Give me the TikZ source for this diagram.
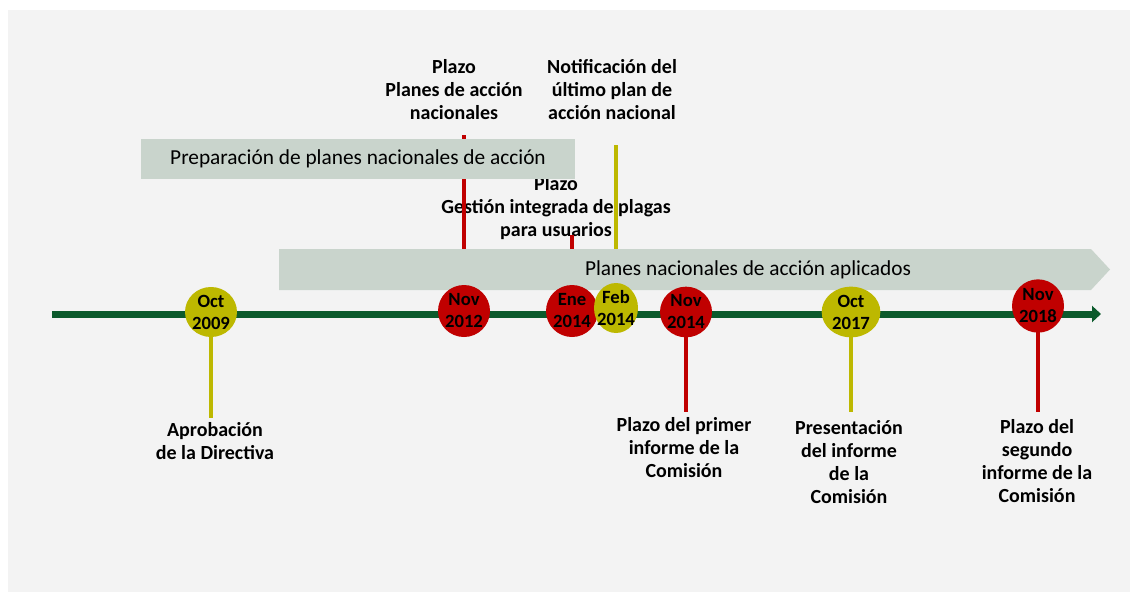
\documentclass[tikz,border=0pt]{standalone}
\usepackage{fontspec}
\setmainfont{Carlito}
\usetikzlibrary{shapes.geometric,arrows.meta}
\definecolor{bgGray}{HTML}{F3F3F3}
\definecolor{bandGreen}{HTML}{C9D4CC}
\definecolor{axisGreen}{HTML}{0B5A2C}
\definecolor{dateRed}{HTML}{C00000}
\definecolor{dateOlive}{HTML}{BDB800}
\tikzset{
    event/.style = {
        ellipse,
        fill=#1,
        inner sep=-8pt,
        align=center,
        font=\fontsize{14}{16.5}\selectfont\bfseries,
        minimum width=39pt,
        minimum height=39pt
    },
    stem/.style = {
        line width=3pt,
        #1
    },
    band/.style = {
        fill=bandGreen,
        font=\fontsize{16}{19}\selectfont
    },
    note/.style = {
        align=center,
        inner sep=0pt,
        font=\fontsize{15}{17.25}\selectfont\bfseries
    },
    axis/.style = {
        line width=5.25pt,
        axisGreen,
        -{Triangle[length=6.75pt,width=12pt]}
    }
}

\begin{document}
\begin{tikzpicture}[x=0.75pt,y=-0.75pt]
    \useasboundingbox (0,0) rectangle (1130,592);
    \fill[bgGray] (8,10) rectangle (1130,592);

    % Draw texts
    \node[note] (plazoPlanes) at (454,90) {Plazo\\Planes de acción\\nacionales};
    \node[note] (notif) at (612,90) {Notificación del\\último plan de\\acción nacional};
    \node[note] (gestion) at (556,208) {Plazo\\Gestión integrada de plagas\\para usuarios};
    \node[note] (aprob) at (215,441) {Aprobación\\de la Directiva};
    \node[note] (primer) at (684,448) {Plazo del primer\\informe de la\\Comisión};
    \node[note] (present) at (849,462) {Presentación\\del informe\\de la\\Comisión};
    \node[note] (segundo) at (1037,461) {Plazo del\\segundo\\informe de la\\Comisión};

    % Draw dates
    \coordinate (d09) at (211,312);
    \coordinate (d12) at (464,311);
    \coordinate (d14a) at (572,311);
    \coordinate (d14b) at (616,308);
    \coordinate (d14c) at (686,312);
    \coordinate (d17) at (851,312);
    \coordinate (d18) at (1038,306);

    % Draw stems
    \draw[stem=dateOlive, shorten >=3pt] (d09) -- (d09 |- aprob.north);
    \draw[stem=dateRed] (d12) -- (d12 |- 0,135);
    \draw[stem=dateRed] (d14a) -- ([yshift=4pt]d14a |- gestion.south);
    \draw[stem=dateOlive] (d14b) -- (d14b |- 0,145);
    \draw[stem=dateRed, shorten >=4pt] (d14c) -- (d14c |- primer.north);
    \draw[stem=dateOlive, shorten >=6pt] (d17) -- (d17 |- present.north);
    \draw[stem=dateRed, shorten >=5pt] (d18) -- (d18 |- segundo.north);

    % Draw bands
    \node[band, minimum width=325.5pt, minimum height=30pt] (prep) at (358,159)
        {Preparación de planes nacionales de acción};
    \fill[bandGreen] (279,249) -- (1091,249) -- (1110,269.5) -- (1091,290) -- (279,290) -- cycle;
    \node[band, fill=none] (aplic) at (748,270) {Planes nacionales de acción aplicados};

    % Draw axis
    \coordinate (axisL) at (52,314);
    \coordinate (axisR) at (1101,314);
    \draw[axis] (axisL) -- (axisR);

    \node[event=dateOlive, minimum height=37.5pt] (oct09) at (d09) {Oct\\2009};
    \node[event=dateRed] (nov12) at (d12) {Nov\\2012};
    \node[event=dateRed] (ene14) at (d14a) {Ene\\2014};
    \node[event=dateOlive, minimum width=33pt, minimum height=37.5pt] (feb14) at (d14b) {Feb\\2014};
    \node[event=dateRed, minimum height=38pt] (nov14) at (d14c) {Nov\\2014};
    \node[event=dateOlive, minimum width=44pt, minimum height=38pt] (oct17) at (d17) {Oct\\2017};
    \node[event=dateRed, minimum height=40pt] (nov18) at (d18) {Nov\\2018};
\end{tikzpicture}
\end{document}
